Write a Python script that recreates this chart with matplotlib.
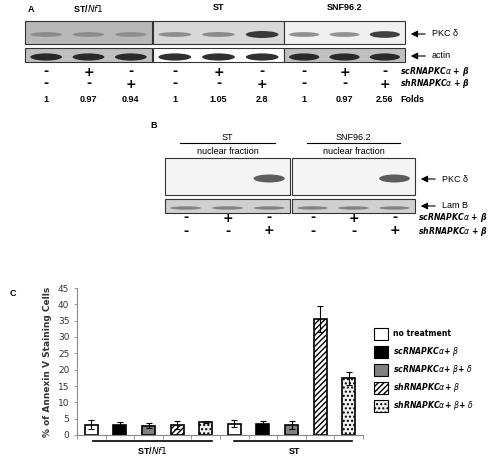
import matplotlib
matplotlib.use("Agg")
import matplotlib.pyplot as plt
from matplotlib.patches import Rectangle, Ellipse
import numpy as np

groups_a = ["ST/$\\it{Nf1}$", "ST", "SNF96.2"]
folds_a = [[1, 0.97, 0.94], [1, 1.05, 2.8], [1, 0.97, 2.56]]
folds_txt = [["1", "0.97", "0.94"], ["1", "1.05", "2.8"], ["1", "0.97", "2.56"]]
sc_signs = ["-", "+", "-"]
sh_signs = ["-", "-", "+"]
groups_b = ["ST", "SNF96.2"]
b_pkc = [[0.0, 0.0, 1.0], [0.0, 0.0, 1.0]]
sc_b = ["-", "+", "-"]
sh_b = ["-", "-", "+"]

legend_labels = ["no treatment", "scRNAPKC$\\alpha$+ $\\beta$", "scRNAPKC$\\alpha$+ $\\beta$+ $\\delta$",
                 "shRNAPKC$\\alpha$+ $\\beta$", "shRNAPKC$\\alpha$+ $\\beta$+ $\\delta$"]
cells = ["ST/Nf1", "ST"]
values = [3.2, 3.2, 2.8, 3.1, 4.0, 3.5, 3.3, 3.1, 35.5, 17.3]
errors = [1.3, 0.9, 0.8, 1.3, 0.2, 1.0, 1.0, 1.2, 4.0, 2.0]
yticks = [0, 5, 10, 15, 20, 25, 30, 35, 40, 45]

W, H = 500, 458
fig = plt.figure(figsize=(W/100, H/100), dpi=100)
ov = fig.add_axes([0, 0, 1, 1])
ov.set_xlim(0, W); ov.set_ylim(H, 0); ov.axis("off")
fs = 6.5
bold = dict(fontsize=fs, fontweight="bold", family="Liberation Sans")
lab_kw = dict(va="center", fontsize=5.6, fontweight="bold", style="italic")

def blot(x0, x1, y0, y1, bg, intens, bandh, darkmin=0.15):
    ov.add_patch(Rectangle((x0, y0), x1-x0, y1-y0, fc=bg, ec="#333333", lw=0.8))
    n = len(intens)
    w = (x1-x0)/n
    for i, v in enumerate(intens):
        if v <= 0: continue
        c = str(max(darkmin, 0.75 - 0.45*v))
        ov.add_patch(Ellipse((x0+w*(i+0.5), (y0+y1)/2+2), w*0.75, bandh*(0.6+0.4*min(v, 1.5)), fc=c, ec="none", alpha=0.9))

# Panel A
ov.text(28, 12, "A", **bold)
xs_a = [(25, 152), (153, 284), (284, 405)]
bgs_a = ["#b8b8b8", "#d8d8d8", "#f0f0f0"]
for (x0, x1), g, f, bg in zip(xs_a, groups_a, folds_a, bgs_a):
    ov.text((x0+x1)/2, 8, g, ha="center", va="center", **bold)
    blot(x0, x1, 21, 44, bg, [min(v, 2.8)/2 for v in f], 6)
    blot(x0, x1, 48, 62, "#c0c0c0" if bg != "#d8d8d8" else "white", [1.6]*3, 6, 0.1)
    w = (x1-x0)/3
    for i in range(3):
        cx = x0 + w*(i+0.5)
        ov.text(cx, 72, sc_signs[i], ha="center", va="center", fontsize=9, fontweight="bold")
        ov.text(cx, 84, sh_signs[i], ha="center", va="center", fontsize=9, fontweight="bold")
for (x0, x1), ft in zip(xs_a, folds_txt):
    w = (x1-x0)/3
    for i in range(3):
        ov.text(x0+w*(i+0.5), 100, ft[i], ha="center", va="center", **bold)
ov.annotate("", xy=(408, 34), xytext=(428, 34), arrowprops=dict(arrowstyle="-|>", lw=0.8, color="k"))
ov.text(432, 34, "PKC δ", va="center", fontsize=fs, family="Liberation Sans")
ov.annotate("", xy=(408, 56), xytext=(428, 56), arrowprops=dict(arrowstyle="-|>", lw=0.8, color="k"))
ov.text(432, 56, "actin", va="center", fontsize=fs, family="Liberation Sans")
ov.text(400, 71, "scRNAPKC$\\alpha$ + β", **lab_kw)
ov.text(400, 83, "shRNAPKC$\\alpha$ + β", **lab_kw)
ov.text(400, 100, "Folds", va="center", **bold)

# Panel B
ov.text(150, 128, "B", **bold)
xs_b = [(165, 290), (292, 415)]
for (x0, x1), g, v in zip(xs_b, groups_b, b_pkc):
    cx = (x0+x1)/2
    ov.text(cx, 137, g, ha="center", va="center", fontsize=fs, family="Liberation Sans")
    ov.plot([x0+15, x1-15], [143, 143], color="k", lw=0.8)
    ov.text(cx, 151, "nuclear fraction", ha="center", va="center", fontsize=fs, family="Liberation Sans")
    blot(x0, x1, 158, 195, "#f4f4f4", v, 8, 0.05)
    blot(x0, x1, 199, 213, "#d0d0d0", [0.6]*3, 4)
    w = (x1-x0)/3
    for i in range(3):
        ov.text(x0+w*(i+0.5), 218, sc_b[i], ha="center", va="center", fontsize=9, fontweight="bold")
        ov.text(x0+w*(i+0.5), 231, sh_b[i], ha="center", va="center", fontsize=9, fontweight="bold")
ov.annotate("", xy=(418, 179), xytext=(438, 179), arrowprops=dict(arrowstyle="-|>", lw=0.8, color="k"))
ov.text(442, 179, "PKC δ", va="center", fontsize=fs, family="Liberation Sans")
ov.annotate("", xy=(418, 206), xytext=(438, 206), arrowprops=dict(arrowstyle="-|>", lw=0.8, color="k"))
ov.text(442, 206, "Lam B", va="center", fontsize=fs, family="Liberation Sans")
ov.text(418, 218, "scRNAPKC$\\alpha$ + β", **lab_kw)
ov.text(418, 231, "shRNAPKC$\\alpha$ + β", **lab_kw)

# Panel C
ov.text(10, 296, "C", **bold)
ax = fig.add_axes([77/W, 1-435/H, (363-77)/W, (435-288)/H])
fcs = ["white", "black", "#808080", "white", "#f0f0f0"]
hatches = [None, None, None, "//////", "...."]
for i, (v, e) in enumerate(zip(values, errors)):
    k = i % 5
    ax.bar(i, v, width=0.45, color=fcs[k], edgecolor="black", lw=1.2, hatch=hatches[k],
           yerr=e, error_kw=dict(capsize=2.5, lw=0.8, capthick=0.8), zorder=2)
ax.set_xlim(-0.5, 9.5)
ax.set_ylim(0, 45)
ax.set_yticks(yticks)
ax.set_xticks(np.arange(-0.5, 10, 1))
ax.set_xticklabels([])
ax.tick_params(axis="x", length=3, width=0.6, color="#888888")
ax.tick_params(axis="y", labelsize=6.5, length=2, width=0.6, color="#888888", labelcolor="#333333")
for s in ["top", "right"]:
    ax.spines[s].set_visible(False)
for s in ["left", "bottom"]:
    ax.spines[s].set_color("#888888")
ax.set_ylabel("% of Annexin V Staining Cells", fontsize=6.5, fontweight="bold", color="#333333")
ov.plot([93, 212], [441, 441], color="k", lw=1.2)
ov.plot([234, 352], [441, 441], color="k", lw=1.2)
ov.text(152, 451, "ST/$\\it{Nf1}$", ha="center", va="center", **bold)
ov.text(295, 451, "ST", ha="center", va="center", **bold)

for i, lab in enumerate(legend_labels):
    y = 334 + i*18
    ov.add_patch(Rectangle((374, y-6), 14, 12, fc=fcs[i], ec="black", lw=0.8, hatch=hatches[i]))
    ov.text(393, y, lab, va="center", fontsize=5.6, fontweight="bold",
            style="italic" if i > 0 else "normal")

fig.savefig("out.png", dpi=100)
